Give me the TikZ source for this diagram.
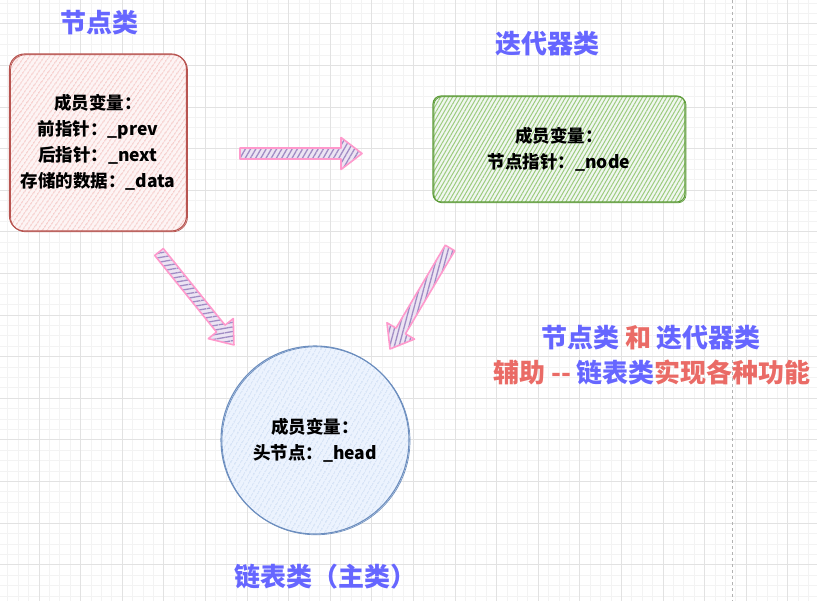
\documentclass[tikz,border=0pt]{standalone}
\usepackage{fontspec}
\setmainfont{Noto Sans CJK SC}
\usepackage{xcolor}
\usetikzlibrary{calc,patterns.meta}
\definecolor{titleblue}{HTML}{6666FF}
\definecolor{notered}{HTML}{EA6B66}
\definecolor{nodefill}{HTML}{F8CECC}
\definecolor{nodehatch}{HTML}{F2B8B5}
\definecolor{nodeline}{HTML}{B85450}
\definecolor{iterfill}{HTML}{D5E8D4}
\definecolor{iterline}{HTML}{5E9C3A}
\definecolor{iterhatch}{HTML}{9DCB7E}
\definecolor{listfill}{HTML}{DAE8FC}
\definecolor{listline}{HTML}{6C8EBF}
\definecolor{listhatch}{HTML}{C9DAF2}
\definecolor{arrowline}{HTML}{FF99CC}
\definecolor{arrowhatch}{HTML}{A08CC4}
\definecolor{arrowfill}{HTML}{ECE4F3}
\definecolor{gridmajor}{HTML}{E2E2E2}
\definecolor{gridminor}{HTML}{F3F3F3}

\tikzset{
  classtitle/.style={font=\fontsize{26}{30}\selectfont\bfseries, text=titleblue},
  membertext/.style={font=\fontsize{17.5}{26}\selectfont\bfseries, align=center},
  notetext/.style={font=\fontsize{26}{30}\selectfont\bfseries, text=notered},
  sketchline/.style={postaction={draw=#1, line width=0.7pt,
    transform canvas={shift={(1pt,-0.8pt)}}}},
  nodebox/.style={membertext, draw=nodeline, line width=1.1pt, rounded corners=15pt,
    minimum width=177pt, minimum height=177pt,
    preaction={fill=nodefill!22},
    pattern={Lines[angle=55,distance=4pt,line width=1pt]}, pattern color=nodehatch,
    sketchline=nodeline},
  iterbox/.style={membertext, draw=iterline, line width=1.1pt, rounded corners=8pt,
    minimum width=252pt, minimum height=106pt,
    preaction={fill=iterfill!35},
    pattern={Lines[angle=60,distance=3.5pt,line width=1pt]}, pattern color=iterhatch,
    sketchline=iterline},
  listcircle/.style={membertext, circle, draw=listline, line width=1.1pt,
    minimum size=188pt,
    preaction={fill=listfill!50},
    pattern={Lines[angle=60,distance=4pt,line width=1pt]}, pattern color=listhatch,
    sketchline=listline},
  blockarrow/.style={draw=arrowline, line width=1.6pt, line join=round,
    preaction={fill=arrowfill},
    pattern={Lines[angle=60,distance=4.5pt,line width=1.3pt]}, pattern color=arrowhatch},
  gridminor/.style={draw=gridminor, line width=0.6pt},
  gridmajor/.style={draw=gridmajor, line width=0.8pt},
  pageedge/.style={draw=black!30, line width=0.8pt, dash pattern=on 3pt off 3pt}
}

% block arrow from tail coordinate #2 to tip coordinate #3
\newcommand\blockarrow[3][]{%
  \path let \p1=($(#3)-(#2)$), \n1={atan2(\y1,\x1)}, \n2={veclen(\x1,\y1)} in
    \pgfextra{\xdef\arrang{\n1}\xdef\arrlen{\n2}};
  \begin{scope}[shift={(#2)}, rotate=\arrang, x=1pt, y=1pt]
    \path[blockarrow,#1] (0,-5.5) -- (\arrlen-21,-5.5) -- (\arrlen-21,-16)
      -- (\arrlen,0) -- (\arrlen-21,16) -- (\arrlen-21,5.5) -- (0,5.5) -- cycle;
  \end{scope}}

\begin{document}
\begin{tikzpicture}[x=1pt,y=-1pt]
  \useasboundingbox (0,0) rectangle (817,601);
  \fill[white] (0,0) rectangle (817,601);
  \clip (0,0) rectangle (817,601);

  % background grid
  \foreach \k in {-3,...,75}
    \draw[gridminor] ({38.9+10.4*\k},0) -- ++(0,601);
  \foreach \k in {-2,...,55}
    \draw[gridminor] (0,{23.8+10.4*\k}) -- ++(817,0);
  \foreach \k in {-1,...,18}
    \draw[gridmajor] ({38.9+41.6*\k},0) -- ++(0,601);
  \foreach \k in {0,...,13}
    \draw[gridmajor] (0,{23.8+41.6*\k}) -- ++(817,0);
  \draw[pageedge] (732.7,0) -- (732.7,601);

  % classes
  \node[classtitle] (nodetitle) at (99.5,23) {节点类};
  \node[nodebox] (nodeclass) at (98,142.5)
    {成员变量：\\前指针：\_prev\\后指针：\_next\\存储的数据：\_data};

  \node[classtitle] (itertitle) at (547.5,44) {迭代器类};
  \node[iterbox] (iterclass) at (559,149) {成员变量：\\节点指针：\_node};

  \node[listcircle] (listclass) at (315,440) {成员变量：\\头节点：\_head};
  \node[classtitle] (listtitle) at (325,577) {链表类（主类）};

  % arrows
  \coordinate (n2i-tail) at (240,153.5);
  \coordinate (n2i-tip) at (362,153.5);
  \coordinate (n2l-tail) at (159,252);
  \coordinate (n2l-tip) at (234,345);
  \coordinate (i2l-tail) at (450,248);
  \coordinate (i2l-tip) at (390,349);
  \blockarrow{n2i-tail}{n2i-tip}
  \blockarrow[pattern={Lines[angle=10,distance=4.5pt,line width=1.3pt]}]{n2l-tail}{n2l-tip}
  \blockarrow[pattern={Lines[angle=75,distance=4.5pt,line width=1.3pt]}]{i2l-tail}{i2l-tip}

  % note
  \node[notetext] (helpnote1) at (651,338)
    {\textcolor{titleblue}{节点类} 和 \textcolor{titleblue}{迭代器类}};
  \node[notetext] (helpnote2) at (652,372)
    {辅助 -{}- \textcolor{titleblue}{链表类}实现各种功能};
\end{tikzpicture}
\end{document}
